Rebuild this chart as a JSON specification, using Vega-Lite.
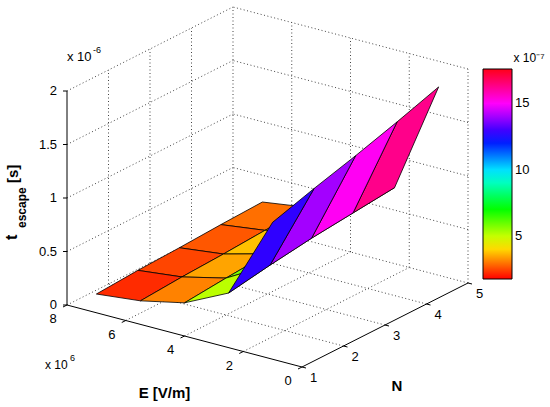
{
  "$schema": "https://vega.github.io/schema/vega-lite/v6.json",
  "width": 550,
  "height": 407,
  "autosize": {"type": "none"},
  "padding": 0,
  "background": "white",
  "config": {"view": {"stroke": null}, "font": "Liberation Sans"},
  "datasets": {
    "surface": [
      {"id": "p11", "E": 1000000, "N": 1, "t": 1.28e-6},
      {"id": "p12", "E": 1000000, "N": 2, "t": 1.40e-6},
      {"id": "p13", "E": 1000000, "N": 3, "t": 1.51e-6},
      {"id": "p14", "E": 1000000, "N": 4, "t": 1.63e-6},
      {"id": "p15", "E": 1000000, "N": 5, "t": 1.76e-6},
      {"id": "p21", "E": 2500000, "N": 1, "t": 5.1e-7},
      {"id": "p22", "E": 2500000, "N": 2, "t": 5.75e-7},
      {"id": "p23", "E": 2500000, "N": 3, "t": 6.3e-7},
      {"id": "p24", "E": 2500000, "N": 4, "t": 6.7e-7},
      {"id": "p25", "E": 2500000, "N": 5, "t": 7.1e-7},
      {"id": "p31", "E": 4000000, "N": 1, "t": 3.1e-7},
      {"id": "p32", "E": 4000000, "N": 2, "t": 3.45e-7},
      {"id": "p33", "E": 4000000, "N": 3, "t": 3.75e-7},
      {"id": "p34", "E": 4000000, "N": 4, "t": 4.05e-7},
      {"id": "p35", "E": 4000000, "N": 5, "t": 4.4e-7},
      {"id": "p41", "E": 5500000, "N": 1, "t": 2.2e-7},
      {"id": "p42", "E": 5500000, "N": 2, "t": 2.47e-7},
      {"id": "p43", "E": 5500000, "N": 3, "t": 2.65e-7},
      {"id": "p44", "E": 5500000, "N": 4, "t": 2.9e-7},
      {"id": "p45", "E": 5500000, "N": 5, "t": 3.1e-7},
      {"id": "p51", "E": 7000000, "N": 1, "t": 1.75e-7},
      {"id": "p52", "E": 7000000, "N": 2, "t": 2.0e-7},
      {"id": "p53", "E": 7000000, "N": 3, "t": 2.15e-7},
      {"id": "p54", "E": 7000000, "N": 4, "t": 2.35e-7},
      {"id": "p55", "E": 7000000, "N": 5, "t": 2.5e-7}
    ],
    "faces": [
      {"face": "f44", "cid": "p44", "id": ["p44", "p54", "p55", "p45", "p44"]},
      {"face": "f43", "cid": "p43", "id": ["p43", "p53", "p54", "p44", "p43"]},
      {"face": "f42", "cid": "p42", "id": ["p42", "p52", "p53", "p43", "p42"]},
      {"face": "f41", "cid": "p41", "id": ["p41", "p51", "p52", "p42", "p41"]},
      {"face": "f34", "cid": "p34", "id": ["p34", "p44", "p45", "p35", "p34"]},
      {"face": "f33", "cid": "p33", "id": ["p33", "p43", "p44", "p34", "p33"]},
      {"face": "f32", "cid": "p32", "id": ["p32", "p42", "p43", "p33", "p32"]},
      {"face": "f31", "cid": "p31", "id": ["p31", "p41", "p42", "p32", "p31"]},
      {"face": "f24", "cid": "p24", "id": ["p24", "p34", "p35", "p25", "p24"]},
      {"face": "f23", "cid": "p23", "id": ["p23", "p33", "p34", "p24", "p23"]},
      {"face": "f22", "cid": "p22", "id": ["p22", "p32", "p33", "p23", "p22"]},
      {"face": "f21", "cid": "p21", "id": ["p21", "p31", "p32", "p22", "p21"]},
      {"face": "f14", "cid": "p14", "id": ["p14", "p24", "p25", "p15", "p14"]},
      {"face": "f13", "cid": "p13", "id": ["p13", "p23", "p24", "p14", "p13"]},
      {"face": "f12", "cid": "p12", "id": ["p12", "p22", "p23", "p13", "p12"]},
      {"face": "f11", "cid": "p11", "id": ["p11", "p21", "p22", "p12", "p11"]}
    ],
    "frame": [
      {"kind": "grid", "E": 2000000, "N": 1, "t": 0, "E2": 2000000, "N2": 5, "t2": 0},
      {"kind": "grid", "E": 4000000, "N": 1, "t": 0, "E2": 4000000, "N2": 5, "t2": 0},
      {"kind": "grid", "E": 6000000, "N": 1, "t": 0, "E2": 6000000, "N2": 5, "t2": 0},
      {"kind": "grid", "E": 8000000, "N": 1, "t": 0, "E2": 8000000, "N2": 5, "t2": 0},
      {"kind": "grid", "E": 0, "N": 2, "t": 0, "E2": 8000000, "N2": 2, "t2": 0},
      {"kind": "grid", "E": 0, "N": 3, "t": 0, "E2": 8000000, "N2": 3, "t2": 0},
      {"kind": "grid", "E": 0, "N": 4, "t": 0, "E2": 8000000, "N2": 4, "t2": 0},
      {"kind": "grid", "E": 0, "N": 5, "t": 0, "E2": 8000000, "N2": 5, "t2": 0},
      {"kind": "grid", "E": 8000000, "N": 2, "t": 0, "E2": 8000000, "N2": 2, "t2": 2e-6},
      {"kind": "grid", "E": 8000000, "N": 3, "t": 0, "E2": 8000000, "N2": 3, "t2": 2e-6},
      {"kind": "grid", "E": 8000000, "N": 4, "t": 0, "E2": 8000000, "N2": 4, "t2": 2e-6},
      {"kind": "grid", "E": 8000000, "N": 5, "t": 0, "E2": 8000000, "N2": 5, "t2": 2e-6},
      {"kind": "grid", "E": 8000000, "N": 1, "t": 5e-7, "E2": 8000000, "N2": 5, "t2": 5e-7},
      {"kind": "grid", "E": 8000000, "N": 1, "t": 1e-6, "E2": 8000000, "N2": 5, "t2": 1e-6},
      {"kind": "grid", "E": 8000000, "N": 1, "t": 1.5e-6, "E2": 8000000, "N2": 5, "t2": 1.5e-6},
      {"kind": "grid", "E": 8000000, "N": 1, "t": 2e-6, "E2": 8000000, "N2": 5, "t2": 2e-6},
      {"kind": "grid", "E": 0, "N": 5, "t": 0, "E2": 0, "N2": 5, "t2": 2e-6},
      {"kind": "grid", "E": 2000000, "N": 5, "t": 0, "E2": 2000000, "N2": 5, "t2": 2e-6},
      {"kind": "grid", "E": 4000000, "N": 5, "t": 0, "E2": 4000000, "N2": 5, "t2": 2e-6},
      {"kind": "grid", "E": 6000000, "N": 5, "t": 0, "E2": 6000000, "N2": 5, "t2": 2e-6},
      {"kind": "grid", "E": 0, "N": 5, "t": 5e-7, "E2": 8000000, "N2": 5, "t2": 5e-7},
      {"kind": "grid", "E": 0, "N": 5, "t": 1e-6, "E2": 8000000, "N2": 5, "t2": 1e-6},
      {"kind": "grid", "E": 0, "N": 5, "t": 1.5e-6, "E2": 8000000, "N2": 5, "t2": 1.5e-6},
      {"kind": "grid", "E": 0, "N": 5, "t": 2e-6, "E2": 8000000, "N2": 5, "t2": 2e-6},
      {"kind": "axis", "E": 0, "N": 1, "t": 0, "E2": 8000000, "N2": 1, "t2": 0},
      {"kind": "axis", "E": 0, "N": 1, "t": 0, "E2": 0, "N2": 5, "t2": 0},
      {"kind": "axis", "E": 8000000, "N": 1, "t": 0, "E2": 8000000, "N2": 1, "t2": 2e-6}
    ],
    "labels": [
      {"role": "E", "E": 0, "N": 1, "t": 0, "label": "0"},
      {"role": "E", "E": 2000000, "N": 1, "t": 0, "label": "2"},
      {"role": "E", "E": 4000000, "N": 1, "t": 0, "label": "4"},
      {"role": "E", "E": 6000000, "N": 1, "t": 0, "label": "6"},
      {"role": "E", "E": 8000000, "N": 1, "t": 0, "label": "8"},
      {"role": "N", "E": 0, "N": 1, "t": 0, "label": "1"},
      {"role": "N", "E": 0, "N": 2, "t": 0, "label": "2"},
      {"role": "N", "E": 0, "N": 3, "t": 0, "label": "3"},
      {"role": "N", "E": 0, "N": 4, "t": 0, "label": "4"},
      {"role": "N", "E": 0, "N": 5, "t": 0, "label": "5"},
      {"role": "z", "E": 8000000, "N": 1, "t": 0, "label": "0"},
      {"role": "z", "E": 8000000, "N": 1, "t": 5e-7, "label": "0.5"},
      {"role": "z", "E": 8000000, "N": 1, "t": 1e-6, "label": "1"},
      {"role": "z", "E": 8000000, "N": 1, "t": 1.5e-6, "label": "1.5"},
      {"role": "z", "E": 8000000, "N": 1, "t": 2e-6, "label": "2"},
      {"role": "zmult", "E": 8000000, "N": 1, "t": 2e-6, "label": "x 10", "sup": "-6"},
      {"role": "Emult", "E": 8000000, "N": 1, "t": 0, "label": "x 10", "sup": "6"},
      {"role": "Etitle", "E": 4000000, "N": 1, "t": 0, "label": "E [V/m]"},
      {"role": "Ntitle", "E": 0, "N": 3, "t": 0, "label": "N"},
      {"role": "ztitle", "E": 8000000, "N": 1, "t": 0, "label": "t", "sub": "escape", "unit": "[s]"}
    ]
  },
  "layer": [
    {
      "data": {"name": "frame"},
      "transform": [
        {"calculate": "41.5*(datum.N-1) - 29.375*datum.E/1e6", "as": "px"},
        {"calculate": "7.75*datum.E/1e6 + 21*(datum.N-1) + 1.07e8*datum.t", "as": "py"},
        {"calculate": "41.5*(datum.N2-1) - 29.375*datum.E2/1e6", "as": "px2"},
        {"calculate": "7.75*datum.E2/1e6 + 21*(datum.N2-1) + 1.07e8*datum.t2", "as": "py2"}
      ],
      "encoding": {
        "x": {"field": "px", "type": "quantitative", "scale": {"domain": [-302, 248]}, "axis": null},
        "y": {"field": "py", "type": "quantitative", "scale": {"domain": [-40, 367]}, "axis": null},
        "x2": {"field": "px2"},
        "y2": {"field": "py2"}
      },
      "layer": [
        {
          "transform": [{"filter": "datum.kind == 'grid'"}],
          "mark": {"type": "rule", "color": "#444", "strokeWidth": 1, "strokeDash": [1, 2.5]}
        },
        {
          "transform": [{"filter": "datum.kind == 'axis'"}],
          "mark": {"type": "rule", "color": "#000", "strokeWidth": 1}
        }
      ]
    },
    {
      "data": {"name": "labels"},
      "transform": [
        {"calculate": "41.5*(datum.N-1) - 29.375*datum.E/1e6", "as": "px"},
        {"calculate": "7.75*datum.E/1e6 + 21*(datum.N-1) + 1.07e8*datum.t", "as": "py"}
      ],
      "encoding": {
        "x": {"field": "px", "type": "quantitative", "scale": {"domain": [-302, 248]}, "axis": null},
        "y": {"field": "py", "type": "quantitative", "scale": {"domain": [-40, 367]}, "axis": null}
      },
      "layer": [
        {
          "transform": [{"filter": "datum.role == 'E'"}],
          "mark": {"type": "rule", "color": "#000", "x2Offset": -4, "y2Offset": 2},
          "encoding": {"x2": {"field": "px"}, "y2": {"field": "py"}}
        },
        {
          "transform": [{"filter": "datum.role == 'N'"}],
          "mark": {"type": "rule", "color": "#000", "x2Offset": 4, "y2Offset": 1},
          "encoding": {"x2": {"field": "px"}, "y2": {"field": "py"}}
        },
        {
          "transform": [{"filter": "datum.role == 'z'"}],
          "mark": {"type": "rule", "color": "#000", "x2Offset": -4, "y2Offset": 0},
          "encoding": {"x2": {"field": "px"}, "y2": {"field": "py"}}
        },
        {
          "transform": [{"filter": "datum.role == 'E'"}],
          "mark": {"type": "text", "fontSize": 13, "align": "center", "baseline": "middle", "dx": -14, "dy": 14},
          "encoding": {"text": {"field": "label"}}
        },
        {
          "transform": [{"filter": "datum.role == 'N'"}],
          "mark": {"type": "text", "fontSize": 13, "align": "center", "baseline": "middle", "dx": 11.5, "dy": 10.5},
          "encoding": {"text": {"field": "label"}}
        },
        {
          "transform": [{"filter": "datum.role == 'z'"}],
          "mark": {"type": "text", "fontSize": 13, "align": "right", "baseline": "middle", "dx": -10, "dy": 0},
          "encoding": {"text": {"field": "label"}}
        },
        {
          "transform": [{"filter": "datum.role == 'zmult'"}],
          "mark": {"type": "text", "fontSize": 13, "align": "left", "baseline": "alphabetic", "dx": 0, "dy": -30},
          "encoding": {"text": {"field": "label"}}
        },
        {
          "transform": [{"filter": "datum.role == 'zmult'"}],
          "mark": {"type": "text", "fontSize": 9, "align": "left", "baseline": "alphabetic", "dx": 26, "dy": -38},
          "encoding": {"text": {"field": "sup"}}
        },
        {
          "transform": [{"filter": "datum.role == 'Emult'"}],
          "mark": {"type": "text", "fontSize": 12, "align": "left", "baseline": "alphabetic", "dx": -22, "dy": 64},
          "encoding": {"text": {"field": "label"}}
        },
        {
          "transform": [{"filter": "datum.role == 'Emult'"}],
          "mark": {"type": "text", "fontSize": 9, "align": "left", "baseline": "alphabetic", "dx": 3, "dy": 56},
          "encoding": {"text": {"field": "sup"}}
        },
        {
          "transform": [{"filter": "datum.role == 'Etitle'"}],
          "mark": {"type": "text", "fontSize": 15, "fontWeight": "bold", "align": "center", "baseline": "middle", "dx": -20, "dy": 57},
          "encoding": {"text": {"field": "label"}}
        },
        {
          "transform": [{"filter": "datum.role == 'Ntitle'"}],
          "mark": {"type": "text", "fontSize": 15, "fontWeight": "bold", "align": "center", "baseline": "middle", "dx": 12, "dy": 61},
          "encoding": {"text": {"field": "label"}}
        },
        {
          "transform": [{"filter": "datum.role == 'ztitle'"}],
          "mark": {"type": "text", "fontSize": 16, "fontWeight": "bold", "angle": 270, "align": "left", "baseline": "alphabetic", "dx": 65, "dy": -50},
          "encoding": {"text": {"field": "label"}}
        },
        {
          "transform": [{"filter": "datum.role == 'ztitle'"}],
          "mark": {"type": "text", "fontSize": 12, "fontWeight": "bold", "angle": 270, "align": "left", "baseline": "alphabetic", "dx": 77, "dy": -41},
          "encoding": {"text": {"field": "sub"}}
        },
        {
          "transform": [{"filter": "datum.role == 'ztitle'"}],
          "mark": {"type": "text", "fontSize": 15, "fontWeight": "bold", "angle": 270, "align": "left", "baseline": "alphabetic", "dx": 122, "dy": -49.5},
          "encoding": {"text": {"field": "unit"}}
        }
      ]
    },
    {
      "data": {"name": "faces"},
      "transform": [
        {"flatten": ["id"]},
        {"lookup": "id", "from": {"data": {"name": "surface"}, "key": "id", "fields": ["E", "N", "t"]}},
        {"lookup": "cid", "from": {"data": {"name": "surface"}, "key": "id", "fields": ["t"]}, "as": ["c"]},
        {"calculate": "41.5*(datum.N-1) - 29.375*datum.E/1e6", "as": "px"},
        {"calculate": "7.75*datum.E/1e6 + 21*(datum.N-1) + 1.07e8*datum.t", "as": "py"}
      ],
      "mark": {"type": "line", "filled": true, "stroke": "#000", "strokeWidth": 0.8, "strokeJoin": "round"},
      "encoding": {
        "x": {"field": "px", "type": "quantitative", "scale": {"domain": [-302, 248]}, "axis": null},
        "y": {"field": "py", "type": "quantitative", "scale": {"domain": [-40, 367]}, "axis": null},
        "detail": {"field": "face", "type": "nominal"},
        "order": {"value": null},
        "fill": {
          "field": "c",
          "type": "quantitative",
          "scale": {
            "domain": [1.75e-7, 4.392e-7, 7.033e-7, 9.675e-7, 1.2317e-6, 1.4958e-6, 1.76e-6],
            "range": ["#ff0000", "#ffff00", "#00ff00", "#00ffff", "#0000ff", "#ff00ff", "#ff0018"],
            "interpolate": "rgb"
          },
          "legend": {
            "orient": "none",
            "legendX": 483,
            "legendY": 53,
            "direction": "vertical",
            "padding": 0,
            "gradientLength": 210,
            "gradientThickness": 29,
            "gradientStrokeColor": "#000",
            "gradientStrokeWidth": 1,
            "values": [5e-7, 1e-6, 1.5e-6],
            "labelExpr": "format(datum.value*1e7, '~g')",
            "labelFont": "Liberation Sans",
            "labelFontSize": 13,
            "labelColor": "#000",
            "labelOffset": 3,
            "title": "x 10⁻⁷",
            "titleFont": "Liberation Sans",
            "titleFontSize": 12,
            "titleFontWeight": "normal",
            "titleColor": "#000",
            "titlePadding": 4,
            "titleAnchor": "end",
            "titleAlign": "center"
          }
        }
      }
    }
  ]
}
